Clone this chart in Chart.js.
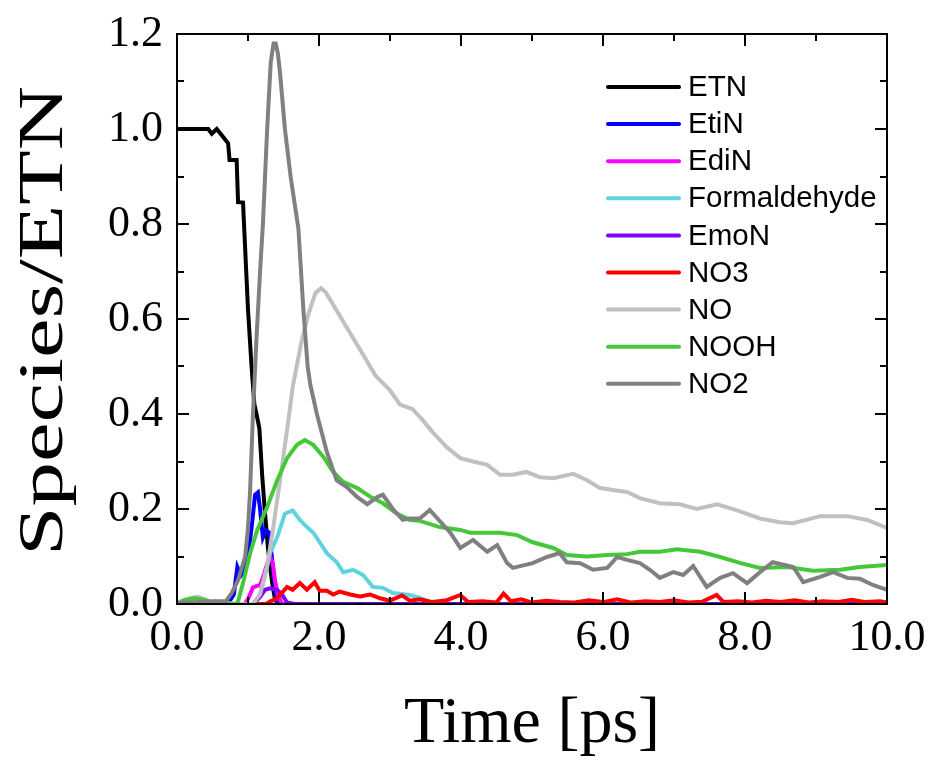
<!DOCTYPE html>
<html><head><meta charset="utf-8">
<script src="https://cdn.jsdelivr.net/npm/chart.js@4.4.0/dist/chart.umd.min.js"></script>
<style>html,body{margin:0;padding:0;background:#fff;overflow:hidden}</style>
</head><body>
<canvas id="c" width="933" height="762"></canvas>
<script>
// ---- data (time in ps, value = species / ETN) ----
const seriesNames = ['ETN','EtiN','EdiN','Formaldehyde','EmoN','NO3','NO','NOOH','NO2'];
const seriesColors = ['#000000','#0000ff','#ff00ff','#5fd4e0','#8000ff','#ff0000','#c0c0c0','#44c83a','#808080'];
const xTitleText = 'Time [ps]';
const yTitleText = 'Species/ETN';

const etnT = [0,0.44,0.49,0.56,0.65,0.72,0.74,0.84,0.86,0.93,0.95,1.0,1.05,1.09,1.12,1.16,1.2,1.24,1.28,1.31,1.34,1.38,1.42,10];
const etnV = [1.0,1.0,0.99,1.0,0.983,0.97,0.935,0.935,0.846,0.845,0.78,0.62,0.5,0.42,0.40,0.37,0.27,0.19,0.12,0.08,0.045,0.01,0,0];

const etinT = [0,0.5,0.55,0.6,0.75,0.8,0.85,0.9,0.95,1.0,1.05,1.1,1.14,1.17,1.21,1.25,1.3,1.35,1.41,10];
const etinV = [0,0,0.005,0,0.008,0.02,0.078,0.06,0.07,0.1,0.16,0.23,0.235,0.2,0.14,0.155,0.15,0.078,0,0];

const edinT = [0,0.95,1.0,1.07,1.17,1.22,1.27,1.31,1.35,1.38,1.42,1.48,10];
const edinV = [0,0,0.01,0.035,0.04,0.06,0.085,0.1,0.085,0.05,0.02,0,0];

const formT = [0,1.07,1.17,1.24,1.31,1.41,1.52,1.63,1.73,1.83,1.92,2.01,2.11,2.25,2.34,2.48,2.62,2.76,2.90,3.04,3.28,3.42,3.56,3.7,10];
const formV = [0,0,0.02,0.06,0.107,0.14,0.19,0.197,0.177,0.162,0.15,0.13,0.107,0.088,0.067,0.072,0.061,0.036,0.034,0.023,0.019,0.013,0.005,0,0];

const emonT = [0,1.07,1.17,1.24,1.31,1.41,1.48,1.55,1.66,10];
const emonV = [0,0,0.015,0.03,0.033,0.03,0.02,0.003,0,0];

const no3T = [0,1.25,1.31,1.41,1.55,1.63,1.73,1.83,1.94,2.01,2.11,2.2,2.29,2.44,2.58,2.72,2.86,3.0,3.17,3.28,3.42,3.6,3.8,3.99,4.1,4.3,4.5,4.6,4.7,4.85,5.0,5.2,5.4,5.6,5.8,6.0,6.2,6.4,6.6,6.8,7.0,7.2,7.4,7.6,7.7,7.9,8.1,8.3,8.5,8.7,8.9,9.1,9.3,9.5,9.7,9.9,10];
const no3V = [0,0,0.005,0.012,0.036,0.03,0.044,0.03,0.046,0.028,0.028,0.02,0.026,0.02,0.016,0.02,0.012,0.007,0.018,0.007,0.01,0.004,0.008,0.019,0.004,0.006,0.003,0.022,0.006,0.01,0.003,0.007,0.004,0.003,0.008,0.004,0.01,0.003,0.006,0.004,0.008,0.003,0.005,0.019,0.004,0.006,0.003,0.007,0.004,0.008,0.003,0.006,0.004,0.009,0.004,0.006,0.003];

const noT = [0,0.1,0.2,0.3,0.4,0.5,0.95,1.07,1.17,1.27,1.35,1.45,1.55,1.63,1.75,1.85,1.95,2.03,2.1,2.2,2.4,2.6,2.8,3.0,3.14,3.32,3.46,3.6,3.8,3.99,4.17,4.37,4.55,4.73,4.92,5.11,5.30,5.58,5.77,5.96,6.14,6.34,6.52,6.80,7.08,7.32,7.61,7.89,8.21,8.49,8.68,9.06,9.44,9.72,10];
const noV = [0.003,0.008,0.013,0.015,0.01,0.003,0,0,0.02,0.08,0.155,0.26,0.366,0.457,0.55,0.61,0.655,0.665,0.655,0.63,0.58,0.53,0.48,0.45,0.42,0.41,0.387,0.362,0.33,0.307,0.30,0.293,0.272,0.272,0.278,0.267,0.265,0.274,0.261,0.244,0.24,0.236,0.223,0.212,0.21,0.20,0.21,0.197,0.18,0.172,0.17,0.185,0.185,0.177,0.16];

const noohT = [0,0.1,0.25,0.4,0.5,0.85,0.93,1.03,1.13,1.27,1.41,1.55,1.69,1.80,1.92,2.06,2.2,2.34,2.54,2.73,2.90,3.10,3.28,3.42,3.70,3.99,4.13,4.55,4.79,5.01,5.30,5.49,5.77,6.06,6.34,6.52,6.80,7.04,7.37,7.65,7.94,8.21,8.59,8.96,9.34,9.62,10];
const noohV = [0,0.008,0.012,0.008,0,0,0.044,0.107,0.156,0.204,0.26,0.307,0.335,0.345,0.335,0.31,0.278,0.257,0.244,0.225,0.212,0.19,0.177,0.175,0.162,0.156,0.15,0.15,0.145,0.13,0.118,0.103,0.1,0.103,0.105,0.11,0.11,0.115,0.11,0.099,0.086,0.076,0.078,0.07,0.072,0.078,0.082];

const no2T = [0,0.3,0.5,0.69,0.77,0.86,0.96,1.0,1.03,1.07,1.12,1.17,1.21,1.27,1.32,1.36,1.39,1.42,1.45,1.52,1.6,1.71,1.78,1.84,1.88,1.97,2.11,2.25,2.39,2.54,2.68,2.82,2.90,3.04,3.18,3.28,3.42,3.56,3.85,3.99,4.17,4.37,4.51,4.65,4.73,5.01,5.21,5.39,5.49,5.68,5.86,6.06,6.20,6.34,6.52,6.66,6.80,6.99,7.13,7.27,7.46,7.65,7.83,8.03,8.21,8.39,8.68,8.82,9.06,9.24,9.44,9.62,9.80,10];
const no2V = [0.002,0.004,0.006,0.006,0.023,0.05,0.10,0.16,0.24,0.40,0.56,0.70,0.80,1.0,1.14,1.18,1.18,1.16,1.12,1.0,0.9,0.79,0.62,0.50,0.46,0.40,0.32,0.26,0.246,0.225,0.21,0.225,0.23,0.20,0.177,0.18,0.18,0.198,0.15,0.118,0.135,0.11,0.124,0.086,0.076,0.086,0.099,0.107,0.088,0.086,0.072,0.076,0.099,0.093,0.086,0.072,0.055,0.067,0.061,0.08,0.036,0.055,0.065,0.044,0.067,0.088,0.078,0.046,0.057,0.067,0.055,0.053,0.04,0.03];

const xTickValues = [0,2,4,6,8,10];
const yTickValues = [0,0.2,0.4,0.6,0.8,1.0,1.2];

// ---- build datasets ----
const seriesTimes = [etnT,etinT,edinT,formT,emonT,no3T,noT,noohT,no2T];
const seriesValues = [etnV,etinV,edinV,formV,emonV,no3V,noV,noohV,no2V];
function toPoints(t, v){ return t.map((x,i)=>({x:x, y:v[i]})); }

const datasets = seriesNames.map((name,i)=>({
  label: name,
  data: toPoints(seriesTimes[i], seriesValues[i]),
  borderColor: seriesColors[i],
  backgroundColor: seriesColors[i],
  borderWidth: 4,
  pointRadius: 0,
  tension: 0,
  fill: false,
  order: seriesNames.length - 1 - i
}));

// ---- frame, inward ticks, y title and legend ----
const framePlugin = {
  id: 'frame',
  afterDraw(chart){
    const {ctx, chartArea:a, scales} = chart;
    const xs = scales.x, ys = scales.y;
    ctx.save();
    ctx.strokeStyle = '#000';
    ctx.lineWidth = 2;
    ctx.strokeRect(a.left, a.top, a.right - a.left, a.bottom - a.top);
    ctx.beginPath();
    const major = 12, minor = 7;
    for (let k = 0; k < xTickValues.length; k++){
      const v = xTickValues[k];
      const px = Math.round(xs.getPixelForValue(v));
      ctx.moveTo(px, a.bottom); ctx.lineTo(px, a.bottom - major);
      ctx.moveTo(px, a.top); ctx.lineTo(px, a.top + major);
      if (k < xTickValues.length - 1){
        const pm = Math.round(xs.getPixelForValue((v + xTickValues[k+1]) / 2));
        ctx.moveTo(pm, a.bottom); ctx.lineTo(pm, a.bottom - minor);
        ctx.moveTo(pm, a.top); ctx.lineTo(pm, a.top + minor);
      }
    }
    for (let k = 0; k < yTickValues.length; k++){
      const v = yTickValues[k];
      const py = Math.round(ys.getPixelForValue(v));
      ctx.moveTo(a.left, py); ctx.lineTo(a.left + major, py);
      ctx.moveTo(a.right, py); ctx.lineTo(a.right - major, py);
      if (k < yTickValues.length - 1){
        const pm = Math.round(ys.getPixelForValue((v + yTickValues[k+1]) / 2));
        ctx.moveTo(a.left, pm); ctx.lineTo(a.left + minor, pm);
        ctx.moveTo(a.right, pm); ctx.lineTo(a.right - minor, pm);
      }
    }
    ctx.stroke();

    // y axis title (tall, stretched along its length like the reference)
    ctx.save();
    ctx.font = '64px "Liberation Serif", "Times New Roman", serif';
    ctx.fillStyle = '#000';
    ctx.textAlign = 'center';
    ctx.textBaseline = 'alphabetic';
    const w = ctx.measureText(yTitleText).width;
    ctx.translate(62, (a.top + a.bottom) / 2 + 2);
    ctx.rotate(-Math.PI / 2);
    ctx.scale(470 / w, 1);
    ctx.fillText(yTitleText, 0, 0);
    ctx.restore();

    // legend
    const lx0 = 608, lx1 = 679, tx = 688, y0 = 87, dy = 37.1;
    ctx.font = '29.5px "Liberation Sans", Arial, sans-serif';
    ctx.textBaseline = 'middle';
    ctx.textAlign = 'left';
    chart.data.datasets.forEach((ds, i) => {
      const y = y0 + i * dy;
      ctx.strokeStyle = ds.borderColor;
      ctx.lineWidth = 4;
      ctx.lineCap = 'round';
      ctx.beginPath(); ctx.moveTo(lx0, y); ctx.lineTo(lx1, y); ctx.stroke();
      ctx.fillStyle = '#000';
      ctx.fillText(ds.label, tx, y + 1);
    });
    ctx.restore();
  }
};

new Chart(document.getElementById('c'), {
  type: 'line',
  data: { datasets },
  plugins: [framePlugin],
  options: {
    responsive: false,
    animation: false,
    events: [],
    layout: { padding: { top: 34, right: 46, left: 0, bottom: 0 } },
    plugins: { legend: { display: false }, tooltip: { enabled: false } },
    scales: {
      x: {
        type: 'linear', min: 0, max: 10,
        afterBuildTicks(s){ s.ticks = xTickValues.map(v=>({value:v})); },
        ticks: {
          callback: v => Number(v).toFixed(1),
          font: { family: 'Liberation Serif', size: 44 },
          color: '#000', padding: 8, maxRotation: 0, autoSkip: false
        },
        grid: { display: false, drawTicks: false },
        border: { display: false },
        title: {
          display: true, text: xTitleText, color: '#000',
          font: { family: 'Liberation Serif', size: 66, lineHeight: 1 },
          padding: { top: 0, bottom: 4 }
        },
        afterFit(s){ s.height = 158; s.paddingLeft = 0; s.paddingRight = 0; }
      },
      y: {
        type: 'linear', min: 0, max: 1.2,
        afterBuildTicks(s){ s.ticks = yTickValues.map(v=>({value:v})); },
        ticks: {
          callback: v => Number(v).toFixed(1),
          font: { family: 'Liberation Serif', size: 44 },
          color: '#000', padding: 14, autoSkip: false
        },
        grid: { display: false, drawTicks: false },
        border: { display: false },
        title: { display: false, text: yTitleText },
        afterFit(s){ s.width = 177; s.paddingTop = 0; s.paddingBottom = 0; }
      }
    }
  }
});
</script>
</body></html>
